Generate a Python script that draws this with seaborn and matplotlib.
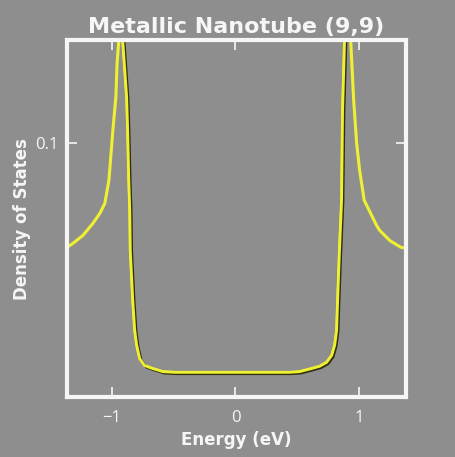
import numpy as np
import pandas as pd
import matplotlib
matplotlib.use("Agg")
import matplotlib.pyplot as plt
import matplotlib.patheffects as pe
from matplotlib.ticker import FixedLocator, NullLocator, FixedFormatter
import seaborn as sns

# Density of states of the (9,9) armchair tube, read per energy point
energy = [-1.370, -1.360, -1.312, -1.231, -1.151, -1.094, -1.054, -1.021,
          -0.989, -0.965, -0.955, -0.941, -0.925, -0.909, -0.877, -0.869,
          -0.860, -0.852, -0.848, -0.828, -0.812, -0.796, -0.772, -0.732,
          -0.675, -0.586, -0.490, 0.0, 0.438, 0.518, 0.623, 0.680, 0.736,
          0.777, 0.801, 0.817, 0.825, 0.840, 0.857, 0.865, 0.881, 0.905,
          0.930, 0.954, 0.978, 1.002, 1.039, 1.139, 1.163, 1.245, 1.334,
          1.375]
dos = [0.0497, 0.0500, 0.0513, 0.0541, 0.0586, 0.0627, 0.0670, 0.0781,
       0.1091, 0.1359, 0.1706, 0.1990, 0.6000, 0.1990, 0.1359, 0.1091,
       0.0781, 0.0639, 0.0490, 0.0351, 0.0287, 0.0260, 0.0238, 0.0227,
       0.0223, 0.0218, 0.0217, 0.0217, 0.0217, 0.0218, 0.0223, 0.0226, 0.0232,
       0.0243, 0.0260, 0.0287, 0.0351, 0.0490, 0.0684, 0.1247, 0.1990, 0.6000,
       0.1990, 0.1332, 0.1000, 0.0835, 0.0684, 0.0578, 0.0560, 0.0523, 0.0500,
       0.0497]

x_ticks = [-1, 0, 1]
x_tick_labels = ["\u22121", "0", "1"]
y_ticks = [0.1]
y_tick_labels = ["0.1"]

bg = "#8e8e8e"
yellow = "#f0f032"
white = "#f6f6f6"

sns.set_theme(style="dark")
plt.rcParams["font.family"] = ["Open Sans", "DejaVu Sans"]

df = pd.DataFrame({"Energy": energy, "DOS": dos})
inner = df[(df["Energy"] > -0.93) & (df["Energy"] < 0.91)]

fig = plt.figure(figsize=(4.55, 4.57), dpi=100, facecolor=bg)
ax = fig.add_axes([0.147, 0.131, 0.745, 0.781])
ax.set_facecolor(bg)

# full curve in yellow
sns.lineplot(data=df, x="Energy", y="DOS", ax=ax, color=yellow, lw=2.2,
             sort=False, estimator=None)
# dark edge along the band interior
sns.lineplot(data=inner, x="Energy", y="DOS", ax=ax, color=yellow, lw=1.9,
             sort=False, estimator=None,
             path_effects=[pe.SimpleLineShadow(offset=(1.0, -1.0),
                                               shadow_color="#1e1e00",
                                               alpha=0.85, rho=1.0),
                           pe.Normal()])

ax.set_yscale("log")
ax.set_xlim(-1.36, 1.375)
ax.set_ylim(0.0184, 0.199)
ax.yaxis.set_major_locator(FixedLocator(y_ticks))
ax.yaxis.set_major_formatter(FixedFormatter(y_tick_labels))
ax.yaxis.set_minor_locator(NullLocator())
ax.set_xticks(x_ticks)
ax.set_xticklabels(x_tick_labels)

ax.tick_params(axis="both", which="major", direction="in", length=7,
               width=1.2, color=white, labelcolor=white, labelsize=12,
               top=True, right=True, bottom=True, left=True, pad=9)
ax.tick_params(axis="y", pad=6)
for side in ax.spines.values():
    side.set_visible(True)
    side.set_color(white)
    side.set_linewidth(3)
ax.grid(False)

label_font = {"family": ["DejaVu Sans"], "weight": "bold", "size": 12}
ax.set_xlabel("Energy (eV)", color=white, fontdict=label_font, labelpad=4)
ax.set_ylabel("Density of States", color=white, fontdict=label_font,
              labelpad=3)
ax.set_title("Metallic Nanotube (9,9)", color=white,
             fontdict={"family": ["DejaVu Sans"], "weight": "bold",
                       "size": 16}, pad=5)

fig.savefig("out.png", dpi=100, facecolor=bg)
